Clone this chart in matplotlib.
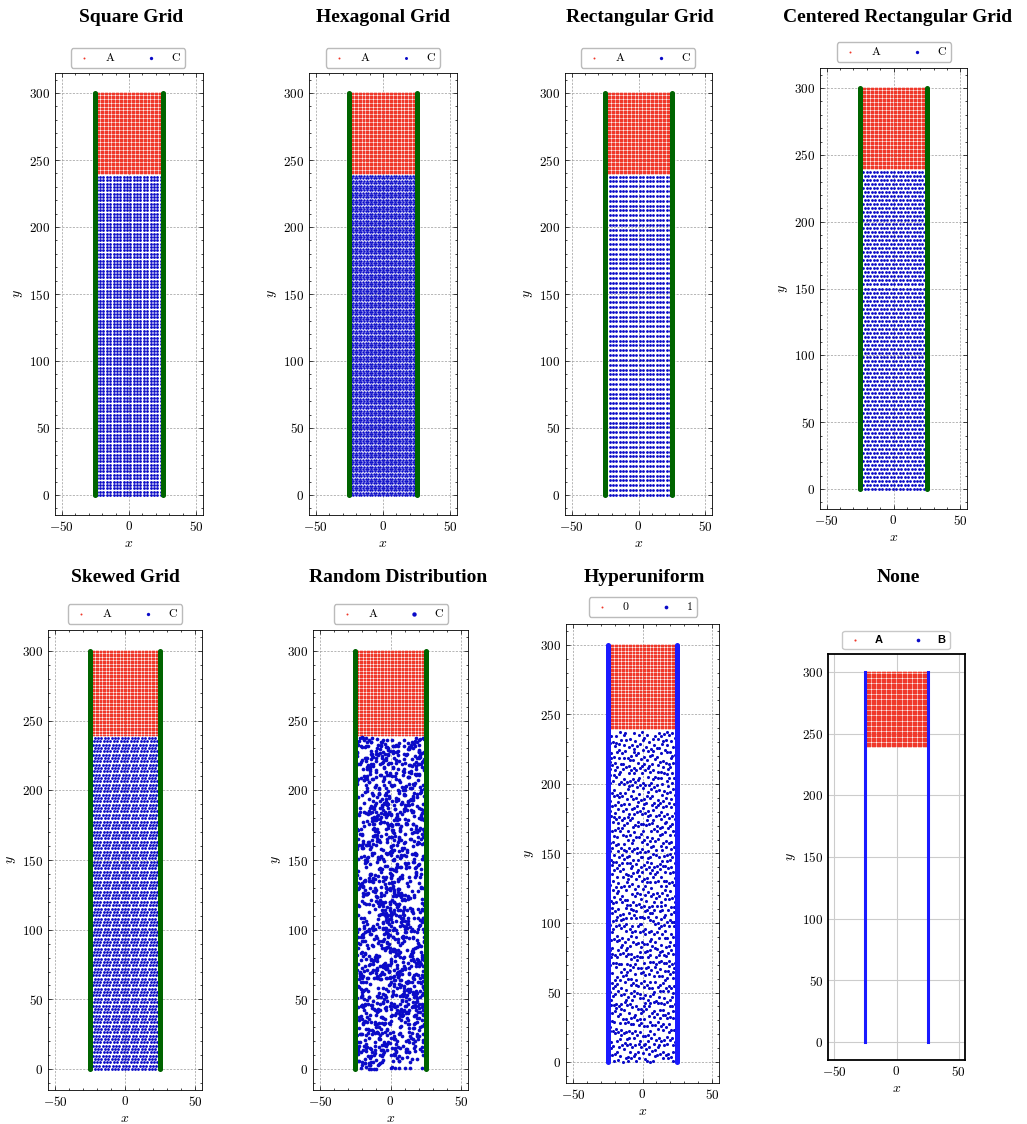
import numpy as np
import matplotlib.pyplot as plt
from matplotlib.ticker import MultipleLocator

W, H = 1027, 1124

titles = ["Square Grid", "Hexagonal Grid", "Rectangular Grid", "Centered Rectangular Grid",
          "Skewed Grid", "Random Distribution", "Hyperuniform", "None"]
legend_labels = [["A", "C"]] * 6 + [["0", "1"], ["A", "B"]]

# channel geometry (data units)
wall_x = [-25, 25]
wall_y = [0, 300]
wall_step = 0.5
a_x = [-24, 24]
a_y = [240, 300]
a_step = 1.0
c_x = [-24, 24]
c_y = [0, 238]

# lattices for the C region: dx, dy, row shift, shift mode
lattices = {
    "Square Grid": (2.5, 2.5, 0.0, "none"),
    "Hexagonal Grid": (2.0, 1.75, 1.0, "alt"),
    "Rectangular Grid": (2.5, 3.6, 0.0, "none"),
    "Centered Rectangular Grid": (2.6, 3.0, 1.3, "alt"),
    "Skewed Grid": (2.4, 2.4, 0.8, "skew"),
}
n_random = 1500
n_hyper = 950

# panel boxes in pixels: left, top, right, bottom
boxes = [(55, 73, 203, 515), (309, 73, 457, 515), (565, 73, 712, 515), (820, 68, 967, 509),
         (48, 630, 202, 1090), (313, 630, 468, 1090), (566, 624, 719, 1083), (828, 654, 965, 1060)]
legend_pos = [(128, 58), (383, 58), (638, 58), (894, 52),
              (125, 614), (391, 614), (643, 607), (896, 640)]
title_pos = [(131, 17), (383, 17), (640, 17), (898, 17),
             (125, 578), (398, 578), (644, 578), (898, 578)]

red = "#f0382a"
blue = "#0a0ac8"


def lattice(dx, dy, shift, mode):
    xs, ys = [], []
    for i, y in enumerate(np.arange(c_y[0], c_y[1] + 1e-9, dy)):
        if mode == "alt":
            off = shift if i % 2 else 0.0
        elif mode == "skew":
            off = (i * shift) % dx
        else:
            off = 0.0
        row = np.arange(c_x[0] + off, c_x[1] + 1e-9, dx)
        xs.extend(row)
        ys.extend([y] * len(row))
    return np.array(xs), np.array(ys)


def scramble(n, k):
    # fixed deterministic scatter pattern (no RNG)
    return np.modf(np.abs(np.sin(n * k) * 43758.5453))[0]


def spread(u, v):
    return c_x[0] + u * (c_x[1] - c_x[0]), c_y[0] + v * (c_y[1] - c_y[0])


plt.rcParams.update({
    "font.family": "serif",
    "font.serif": ["cmr10", "DejaVu Serif"],
    "mathtext.fontset": "cm",
    "axes.formatter.use_mathtext": True,
    "axes.linewidth": 0.6,
    "xtick.direction": "in", "ytick.direction": "in",
    "xtick.top": True, "ytick.right": True,
    "xtick.minor.visible": True, "ytick.minor.visible": True,
    "xtick.major.size": 3, "ytick.major.size": 3,
    "xtick.minor.size": 1.5, "ytick.minor.size": 1.5,
    "xtick.major.width": 0.5, "ytick.major.width": 0.5,
    "xtick.minor.width": 0.5, "ytick.minor.width": 0.5,
    "xtick.labelsize": 9.5, "ytick.labelsize": 9.5,
})

fig = plt.figure(figsize=(W / 100, H / 100), dpi=100)

ax_, ay_ = np.meshgrid(np.arange(a_x[0], a_x[1] + 1e-9, a_step),
                       np.arange(a_y[0], a_y[1] + 1e-9, a_step))
wy = np.arange(wall_y[0], wall_y[1] + 1e-9, wall_step)

for i, name in enumerate(titles):
    l, t, r, b = boxes[i]
    ax = fig.add_axes([l / W, 1 - b / H, (r - l) / W, (b - t) / H])
    ax.set_xlim(-55, 55)
    ax.set_ylim(-15, 315)
    lab = legend_labels[i]

    if name in lattices:
        cx, cy = lattice(*lattices[name])
    elif name == "Random Distribution":
        n = np.arange(1, n_random + 1)
        cx, cy = spread(scramble(n, 12.9898), scramble(n, 78.233))
    elif name == "Hyperuniform":
        n = np.arange(1, n_hyper + 1)
        g = 1.32471795724474602596
        u = np.modf(0.5 + n / g + 0.3 * (scramble(n, 4.1414) - 0.5) / 25)[0]
        v = np.modf(0.5 + n / g ** 2 + 0.3 * (scramble(n, 9.731) - 0.5) / 25)[0]
        cx, cy = spread(u, v)
    else:
        cx, cy = np.array([]), np.array([])

    leg_anchor = (legend_pos[i][0] / W, 1 - legend_pos[i][1] / H)
    if name == "None":
        ax.grid(True, color="#cccccc", linewidth=0.8, linestyle="-")
        ax.minorticks_off()
        ax.tick_params(length=0)
        for s in ax.spines.values():
            s.set_linewidth(1.3)
        for x in wall_x:
            ax.plot([x, x], wall_y, color="#1a1aff", linewidth=2.2, zorder=3)
        ax.scatter(ax_.ravel(), ay_.ravel(), s=1.4, c=red, linewidths=0, label=lab[0], zorder=2)
        ax.scatter([], [], s=4, c=blue, linewidths=0, label=lab[1])
        ax.legend(loc="center", bbox_to_anchor=leg_anchor,
                  bbox_transform=fig.transFigure, ncol=2, frameon=True, fancybox=True,
                  prop={"family": "Liberation Sans", "weight": "bold", "size": 8},
                  handlelength=1.5, handletextpad=1.0, columnspacing=2.4, markerscale=1.3,
                  edgecolor="#bbbbbb")
    else:
        ax.grid(True, color="gray", linewidth=0.5, linestyle=(0, (3, 2)), alpha=0.8)
        ax.xaxis.set_major_locator(MultipleLocator(50))
        ax.xaxis.set_minor_locator(MultipleLocator(10))
        ax.yaxis.set_major_locator(MultipleLocator(50))
        ax.yaxis.set_minor_locator(MultipleLocator(10))
        wall_c = "#1a1aff" if name == "Hyperuniform" else "#006400"
        ax.scatter(ax_.ravel(), ay_.ravel(), s=1.4, c=red, linewidths=0, label=lab[0], zorder=2)
        size = {"Random Distribution": 7, "Hyperuniform": 5, "Hexagonal Grid": 3.2}.get(name, 4)
        ax.scatter(cx, cy, s=size, c=blue, linewidths=0, label=lab[1], zorder=2)
        for x in wall_x:
            ax.scatter(np.full_like(wy, x), wy, s=13, c=wall_c, linewidths=0, zorder=3)
        ax.legend(loc="center", bbox_to_anchor=leg_anchor,
                  bbox_transform=fig.transFigure, ncol=2, frameon=True, fancybox=True,
                  fontsize=8.5, handlelength=1.5, handletextpad=1.0, columnspacing=2.4,
                  markerscale=1.2, edgecolor="#bbbbbb", framealpha=1)

    ax.set_xticks([-50, 0, 50])
    ax.set_yticks([0, 50, 100, 150, 200, 250, 300])
    ax.set_xlabel("$x$", fontsize=10, labelpad=3)
    ax.set_ylabel("$y$", fontsize=10, labelpad=3)
    fig.text(title_pos[i][0] / W, 1 - title_pos[i][1] / H, name, ha="center", va="center",
             family="Liberation Serif", weight="bold", fontsize=14)

fig.savefig("out.png", dpi=100)
